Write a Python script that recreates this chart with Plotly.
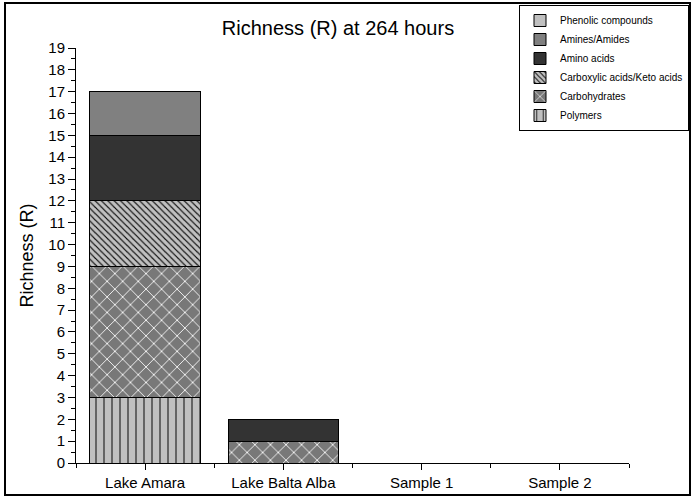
import plotly.graph_objects as go

categories = ["Lake Amara", "Lake Balta Alba", "Sample 1", "Sample 2"]
polymers = [3, 0, 0, 0]
carbohydrates = [6, 1, 0, 0]
carboxylic = [3, 0, 0, 0]
amino_acids = [3, 1, 0, 0]
amines = [2, 0, 0, 0]
phenolic = [0, 0, 0, 0]
y_ticks = list(range(0, 20))

x_idx = list(range(len(categories)))

series = [
    ("Polymers", polymers, dict(bgcolor="#c0c0c0", fgcolor="#000000", shape="|", size=8, solidity=0.12)),
    ("Carbohydrates", carbohydrates, dict(bgcolor="#787878", fgcolor="#ffffff", shape="x", size=11, solidity=0.15)),
    ("Carboxylic acids/Keto acids", carboxylic, dict(bgcolor="#c0c0c0", fgcolor="#000000", shape="\\", size=4.5, solidity=0.25)),
    ("Amino acids", amino_acids, None, "#333333"),
    ("Amines/Amides", amines, None, "#808080"),
    ("Phenolic compounds", phenolic, None, "#c0c0c0"),
]

fig = go.Figure()
for s in series:
    name, vals, pat = s[0], s[1], s[2]
    marker = dict(line=dict(color="#000000", width=1))
    if pat is not None:
        marker["color"] = pat["bgcolor"]
        marker["pattern"] = dict(shape=pat["shape"], fgcolor=pat["fgcolor"], bgcolor=pat["bgcolor"],
                                 size=pat["size"], solidity=pat["solidity"], fillmode="replace")
    else:
        marker["color"] = s[3]
    fig.add_trace(go.Bar(x=x_idx, y=vals, name=name, marker=marker, width=0.8))

W, H = 692, 497
L, R, T, B = 76, 2, 2, 34          # page margins
PX_LEFT, PX_RIGHT = 76, 629        # plot area in pixels
PX_TOP, PX_BOTTOM = 48, 463
pw, ph = W - L - R, H - T - B

def px_x(x):
    return (x - L) / pw

def px_y(y):
    return (H - B - y) / ph

fig.update_layout(
    barmode="stack",
    width=W, height=H,
    margin=dict(l=L, r=R, t=T, b=B, autoexpand=False),
    paper_bgcolor="white", plot_bgcolor="white",
    font=dict(family="Arial, Liberation Sans, sans-serif", color="#000000", size=15),
    title=dict(text="Richness (R) at 264 hours", x=338 / W, xanchor="center",
               y=1 - 28 / H, yanchor="middle", font=dict(size=20)),
    showlegend=True,
    legend=dict(traceorder="reversed", x=px_x(689), y=px_y(5), xanchor="right", yanchor="top",
                bordercolor="#000000", borderwidth=1, bgcolor="white",
                font=dict(size=10), tracegroupgap=0, itemwidth=30),
    bargap=0.2,
)
fig.update_xaxes(
    domain=[px_x(PX_LEFT), px_x(PX_RIGHT)],
    range=[-0.5, len(categories) - 0.5], tickmode="array", tickvals=x_idx, ticktext=categories,
    showline=True, linecolor="#000000", linewidth=1, ticks="outside", ticklen=6, tickcolor="#000000",
    showgrid=False, zeroline=False, automargin=False,
    minor=dict(tickmode="linear", tick0=0.5, dtick=1, ticks="outside", ticklen=4, tickcolor="#000000"),
)
fig.update_yaxes(
    domain=[px_y(PX_BOTTOM), px_y(PX_TOP)],
    range=[0, 19], tickmode="array", tickvals=y_ticks,
    title=dict(text="Richness (R)", standoff=10),
    showline=True, linecolor="#000000", linewidth=1, ticks="outside", ticklen=7, tickcolor="#000000",
    showgrid=False, zeroline=False, automargin=False,
    minor=dict(tickmode="linear", tick0=0.5, dtick=1, ticks="outside", ticklen=4, tickcolor="#000000"),
)
fig.add_shape(type="rect", xref="paper", yref="paper",
              x0=px_x(5), x1=px_x(690), y0=px_y(495), y1=px_y(3),
              line=dict(color="#000000", width=2), fillcolor="rgba(0,0,0,0)", layer="below")

fig.write_html("out.html",
               config={"displayModeBar": False},
               post_script="document.body.style.margin='0';document.body.style.overflow='hidden';")
